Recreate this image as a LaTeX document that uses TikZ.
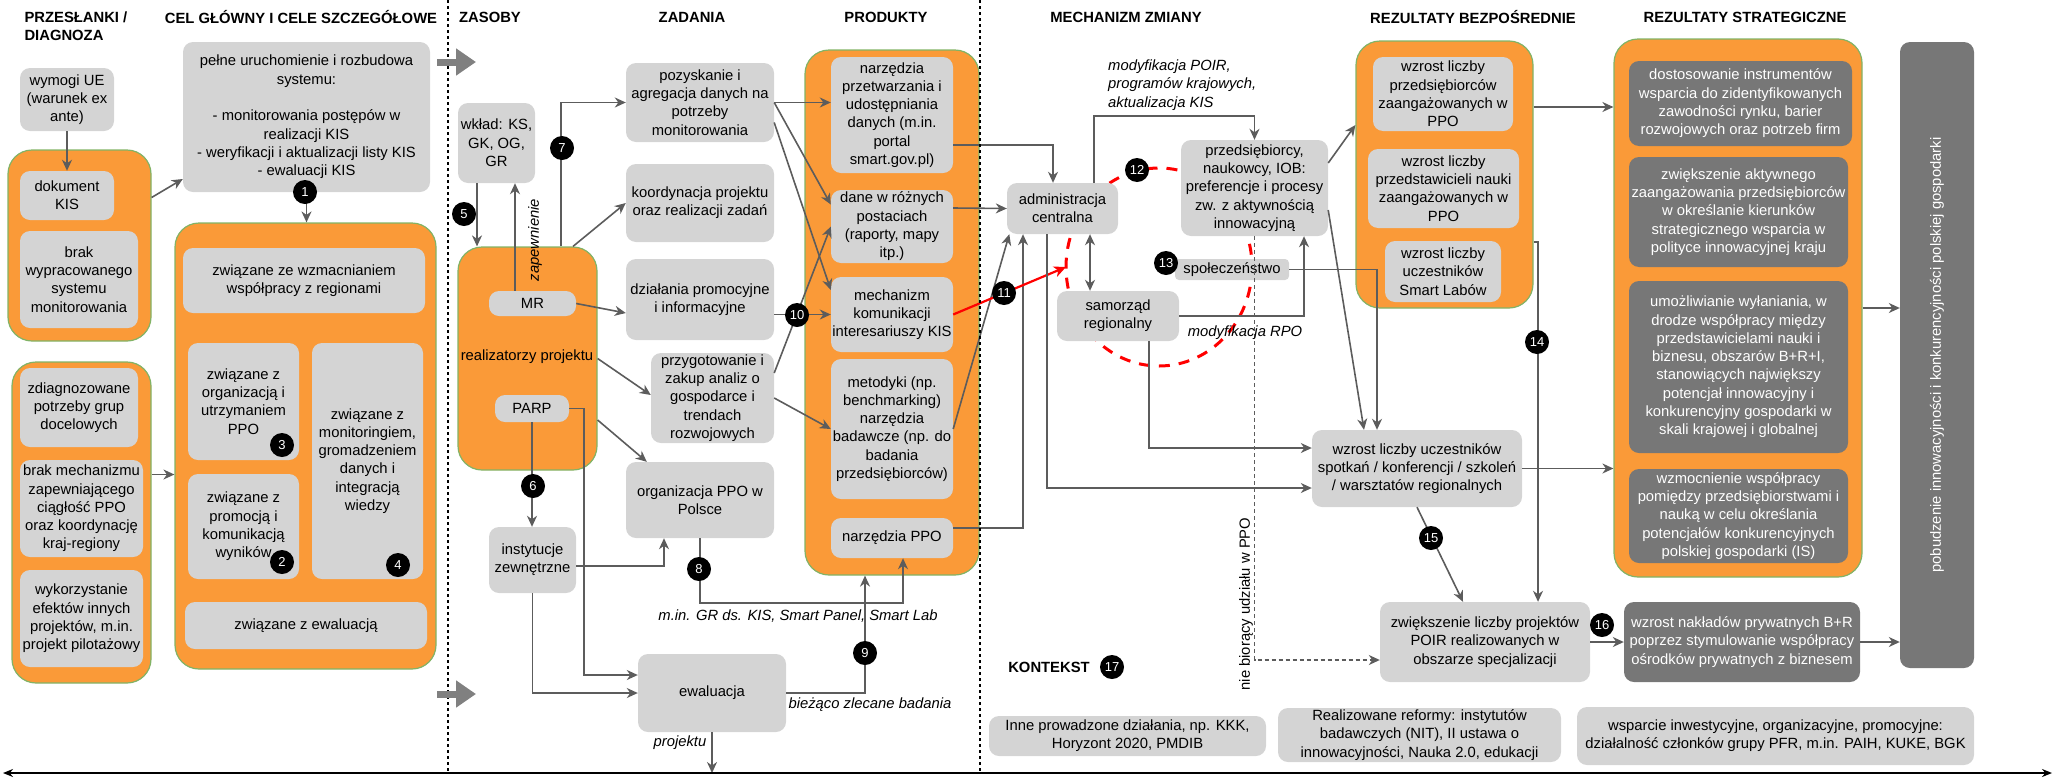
\documentclass[tikz,border=0pt]{standalone}
\usepackage{fontspec}
\setmainfont{Liberation Sans}
\usepackage{tikz}
\usetikzlibrary{arrows.meta,calc}
\definecolor{orng}{HTML}{FA9A38}
\definecolor{grn}{HTML}{82B366}
\definecolor{lgray}{HTML}{D4D4D4}
\definecolor{dgray}{HTML}{777777}
\definecolor{lnk}{HTML}{5C5C5C}
\definecolor{fat}{HTML}{808080}

\begin{document}
\begin{tikzpicture}[
  x=1pt, y=-1pt,
  font=\fontsize{14.8}{18.3}\selectfont,
  gbox/.style 2 args={
    fill=lgray, rounded corners=10pt, align=center, inner sep=0pt,
    minimum width=#1pt, minimum height=#2pt},
  dbox/.style 2 args={gbox={#1}{#2}, fill=dgray, text=white},
  grp/.style 2 args={
    fill=orng, draw=grn, line width=1.2pt, rounded corners=24pt,
    minimum width=#1pt, minimum height=#2pt},
  num/.style={
    circle, fill=black, text=white, inner sep=0pt, minimum size=24pt,
    font=\fontsize{13}{13}\selectfont},
  hdr/.style={font=\fontsize{14.8}{18.3}\selectfont\bfseries, align=left},
  lbl/.style={font=\fontsize{14.8}{18.3}\selectfont\itshape, inner sep=0pt},
  conn/.style={draw=lnk, line width=1.6pt,
    -{Stealth[length=11pt,width=10pt,inset=3.5pt]}},
  dconn/.style={conn, dash pattern=on 4pt off 3pt},
  redarr/.style={draw=red, line width=2.2pt,
    -{Stealth[length=12pt,width=11pt,inset=3.5pt]}},
  redloop/.style={draw=red, line width=3pt, dash pattern=on 11pt off 9pt},
  fatarr/.style={draw=fat, line width=7pt, -{Triangle[length=20pt,width=26pt]}},
  divider/.style={draw=black, line width=1.5pt, dash pattern=on 3pt off 3pt},
  timeline/.style={draw=black, line width=2pt,
    {Stealth[length=10pt,width=8pt]}-{Stealth[length=10pt,width=8pt]}},
]
\useasboundingbox (0,0) rectangle (2055,777);

% headers
\node[hdr, anchor=west] (hpre) at (21,26) {PRZESŁANKI /\\DIAGNOZA};
\node[hdr] (hcel) at (301,17) {CEL GŁÓWNY I CELE SZCZEGÓŁOWE};
\node[hdr] (hzas) at (490,17) {ZASOBY};
\node[hdr] (hzad) at (692,17) {ZADANIA};
\node[hdr] (hpro) at (886,17) {PRODUKTY};
\node[hdr] (hmech) at (1126,17) {MECHANIZM ZMIANY};
\node[hdr] (hbez) at (1473,17) {REZULTATY BEZPOŚREDNIE};
\node[hdr] (hstr) at (1745,17) {REZULTATY STRATEGICZNE};

% red loop behind the actors
\coordinate (cyc) at (1159,267);
\draw[redloop] (cyc) ellipse [x radius=93, y radius=99];

% przeslanki
\node[gbox={94}{63}] (wymogi) at (67,99.5) {wymogi UE\\(warunek ex\\ante)};
\node[grp={143}{191}] (grp1) at (79.5,245.5) {};
\node[gbox={94}{49}] (dokument) at (67,195.5) {dokument\\KIS};
\node[gbox={118}{97}] (brak1) at (79,279.5) {brak\\wypracowanego\\systemu\\monitorowania};
\node[grp={139}{321}] (grp3) at (81.5,522.5) {};
\node[gbox={118}{79}] (zdiag) at (79,407.5) {zdiagnozowane\\potrzeby grup\\docelowych};
\node[gbox={123}{97}] (brak2) at (81.5,508.5) {brak mechanizmu\\zapewniającego\\ciągłość PPO\\oraz koordynację\\kraj-regiony};
\node[gbox={123}{97}] (wykorz) at (81.5,618.5) {wykorzystanie\\efektów innych\\projektów, m.in.\\projekt pilotażowy};

% cele
\node[gbox={247}{150}] (pelne) at (306.5,117) {pełne uruchomienie i rozbudowa\\systemu:\\[18.3pt]- monitorowania postępów w\\realizacji KIS\\- weryfikacji i aktualizacji listy KIS\\- ewaluacji KIS};
\node[grp={261}{446}] (grp2) at (305.5,446) {};
\node[gbox={242}{65}] (wspol) at (304,280.5) {związane ze wzmacnianiem\\współpracy z regionami};
\node[gbox={111}{117}] (organiz) at (243.5,401.5) {związane z\\organizacją i\\utrzymaniem\\PPO};
\node[gbox={111}{105}] (promoc) at (243.5,526.5) {związane z\\promocją i\\komunikacją\\wyników};
\node[gbox={111}{236}] (monit) at (367.5,461) {związane z\\monitoringiem,\\gromadzeniem\\danych i\\integracją\\wiedzy};
\node[gbox={242}{47}] (ewcel) at (306,625.5) {związane z ewaluacją};

% zasoby
\node[gbox={77}{80}] (wklad) at (496.5,143) {wkład: KS,\\GK, OG,\\GR};
\node[grp={139}{223}] (grpZ) at (527.5,358.5) {};
\node[gbox={87}{25}] (mr) at (532.5,303.5) {MR};
\node (realiz) at (527,357) {realizatorzy projektu};
\node[gbox={74}{27}] (parp) at (532,408.5) {PARP};
\node[gbox={87}{66}] (instyt) at (532.5,560) {instytucje\\zewnętrzne};

% zadania
\node[gbox={148}{79}] (pozysk) at (700,102.5) {pozyskanie i\\agregacja danych na\\potrzeby\\monitorowania};
\node[gbox={148}{78}] (koord) at (700,203) {koordynacja projektu\\oraz realizacji zadań};
\node[gbox={148}{81}] (dzial) at (700,299.5) {działania promocyjne\\i informacyjne};
\node[gbox={123}{90}] (przyg) at (712.5,398) {przygotowanie i\\zakup analiz o\\gospodarce i\\trendach\\rozwojowych};
\node[gbox={148}{76}] (orgppo) at (700,500) {organizacja PPO w\\Polsce};
\node[gbox={148}{78}] (ewal) at (712,693) {ewaluacja};

% produkty
\node[grp={174}{525}] (grpP) at (892,312.5) {};
\node[gbox={122}{116}] (narz1) at (892,115) {narzędzia\\przetwarzania i\\udostępniania\\danych (m.in.\\portal\\smart.gov.pl)};
\node[gbox={122}{73}] (dane) at (892,226.5) {dane w różnych\\postaciach\\(raporty, mapy\\itp.)};
\node[gbox={122}{75}] (mech) at (892,314.5) {mechanizm\\komunikacji\\interesariuszy KIS};
\node[gbox={122}{140}] (metod) at (892,429) {metodyki (np.\\benchmarking)\\narzędzia\\badawcze (np. do\\badania\\przedsiębiorców)};
\node[gbox={122}{40}] (narzppo) at (892,538) {narzędzia PPO};

% mechanizm zmiany
\node[gbox={111}{51}] (admin) at (1062.5,208.5) {administracja\\centralna};
\node[gbox={147}{96}] (przeds) at (1254.5,188) {przedsiębiorcy,\\naukowcy, IOB:\\preferencje i procesy\\zw. z aktywnością\\innowacyjną};
\node[gbox={122}{50}] (samorz) at (1118,316) {samorząd\\regionalny};
\node[gbox={114}{21}, rounded corners=4pt] (spol) at (1232,269.5) {społeczeństwo};

% rezultaty bezposrednie
\node[grp={177}{267}] (grpB) at (1444.5,174.5) {};
\node[gbox={140}{74}] (wzr1) at (1443,94) {wzrost liczby\\przedsiębiorców\\zaangażowanych w\\PPO};
\node[gbox={151}{79}] (wzr2) at (1443.5,188.5) {wzrost liczby\\przedstawicieli nauki\\zaangażowanych w\\PPO};
\node[gbox={116}{61}] (wzr3) at (1443,271.5) {wzrost liczby\\uczestników\\Smart Labów};
\node[gbox={210}{77}] (spotk) at (1417,468.5) {wzrost liczby uczestników\\spotkań / konferencji / szkoleń\\/ warsztatów regionalnych};
\node[gbox={210}{80}] (zwiek) at (1485,642) {zwiększenie liczby projektów\\POIR realizowanych w\\obszarze specjalizacji};

% rezultaty strategiczne
\node[grp={248}{538}] (grpS) at (1738,308) {};
\node[dbox={223}{85}] (s1) at (1740.5,103.5) {dostosowanie instrumentów\\wsparcia do zidentyfikowanych\\zawodności rynku, barier\\rozwojowych oraz potrzeb firm};
\node[dbox={219}{110}] (s2) at (1738.5,212) {zwiększenie aktywnego\\zaangażowania przedsiębiorców\\w określanie kierunków\\strategicznego wsparcia w\\polityce innowacyjnej kraju};
\node[dbox={219}{172}] (s3) at (1738.5,367) {umożliwianie wyłaniania, w\\drodze współpracy między\\przedstawicielami nauki i\\biznesu, obszarów B+R+I,\\stanowiących największy\\potencjał innowacyjny i\\konkurencyjny gospodarki w\\skali krajowej i globalnej};
\node[dbox={219}{94}] (s4) at (1738.5,516) {wzmocnienie współpracy\\pomiędzy przedsiębiorstwami i\\nauką w celu określania\\potencjałów konkurencyjnych\\polskiej gospodarki (IS)};
\node[dbox={236}{80}] (naklady) at (1742,642) {wzrost nakładów prywatnych B+R\\poprzez stymulowanie współpracy\\ośrodków prywatnych z biznesem};
\node[dbox={74}{626}] (bar) at (1937,355) {};
\node[rotate=90, text=white] (bartxt) at (bar.center) {pobudzenie innowacyjności i konkurencyjności polskiej gospodarki};

% kontekst
\node[hdr] (hkon) at (1049,667) {KONTEKST};
\node[gbox={277}{40}] (ctx1) at (1127.5,736) {Inne prowadzone działania, np. KKK,\\Horyzont 2020, PMDIB};
\node[gbox={283}{54}] (ctx2) at (1419.5,735) {Realizowane reformy: instytutów\\badawczych (NIT), II ustawa o\\innowacyjności, Nauka 2.0, edukacji};
\node[gbox={397}{58}] (ctx3) at (1775.5,736) {wsparcie inwestycyjne, organizacyjne, promocyjne:\\działalność członków grupy PFR, m.in. PAIH, KUKE, BGK};

% connectors: left part
\draw[conn] (wymogi.south) -- (dokument.north);
\draw[conn] ([yshift=48pt]grp1.east) -- ([yshift=-62pt]pelne.west);
\draw[conn] (pelne.south) -- (pelne.south |- grp2.north);
\draw[conn] ([yshift=48pt]grp3.east) -- ([yshift=48pt]grp3.east -| grp2.west);

% zasoby -> zadania
\draw[conn] ([xshift=-19.5pt]wklad.south) -- ([xshift=-19.5pt]wklad.south |- grpZ.north);
\draw[conn] ([xshift=18.5pt]wklad.south |- mr.north) -- ([xshift=18.5pt]wklad.south);
\draw[conn] ([xshift=33.5pt]grpZ.north) |- (pozysk.west);
\draw[conn] ([xshift=45.5pt]grpZ.north) -- (koord.west);
\draw[conn] (mr.east) -- ([yshift=-13.5pt]dzial.west);
\draw[conn] (grpZ.east) -- ([yshift=3pt]przyg.west);
\draw[conn] ([yshift=-61.5pt]grpZ.east) -- ([xshift=21pt]orgppo.north west);
\draw[conn] (parp.south) -- (parp.south |- instyt.north);
\draw[conn] (parp.east) -- ++(15,0) |- ([yshift=18pt]ewal.west);
\draw[conn] ([yshift=-6pt]instyt.east) -| ([xshift=-36pt]orgppo.south);
\draw[conn] (instyt.south) |- (ewal.west);

% zadania -> produkty
\draw[conn] (pozysk.east) -- (pozysk.east -| narz1.west);
\draw[conn] (pozysk.east) -- ([yshift=22pt]dane.west);
\draw[conn] ([yshift=-20pt]pozysk.east) -- ([yshift=24.5pt]mech.west);
\draw[conn] ([yshift=-15pt]dzial.east) -- (mech.west);
\draw[conn] ([yshift=25pt]przyg.east) -- (dane.west);
\draw[conn] (przyg.east) -- (metod.west);
\draw[conn] (orgppo.south) -- ++(0,65) -| ([xshift=11pt]narzppo.south);
\draw[conn] (ewal.east) -| ([xshift=-27pt]grpP.south);
\coordinate (axl) at (3,773);
\coordinate (axr) at (2052,773);
\draw[conn] (ewal.south) -- (ewal.south |- axl);

% produkty -> mechanizm
\draw[conn] ([yshift=-30pt]narz1.east) -| ([xshift=-9.5pt]admin.north);
\draw[conn] ([yshift=18.5pt]dane.east) -- (admin.west);
\draw[conn] (metod.east) -- ([xshift=2.5pt]admin.south west);
\draw[conn] ([yshift=10pt]narzppo.east) -| ([xshift=-39.5pt]admin.south);
\draw[redarr] (mech.east) -- ([xshift=-93pt]cyc);

% mechanizm
\draw[conn] ([xshift=-15.5pt]admin.south) |- ([yshift=-19.5pt]spotk.west);
\draw[conn] ([xshift=31.5pt]admin.north) -- ++(0,-67) -| (przeds.north);
\draw[conn, <->, >={Stealth[length=11pt,width=10pt,inset=3.5pt]}]
  ([xshift=27.5pt]admin.south) -- ([xshift=27.5pt]admin.south |- samorz.north);
\draw[conn] (samorz.east) -| ([xshift=49.5pt]przeds.south);
\draw[conn] ([xshift=31pt]samorz.south) |- ([yshift=20.5pt]spotk.west);
\draw[conn] (spol.east) -| ([xshift=-40pt]spotk.north);
\draw[conn] ([yshift=-22pt]przeds.east) -- ([xshift=-53pt]spotk.north);
\draw[conn] ([yshift=25pt]przeds.east) -- ([yshift=49.5pt]grpB.west);
\draw[dconn] (przeds.south) |- ([yshift=-18pt]zwiek.west);

% rezultaty
\draw[conn] ([yshift=67.5pt]grpB.east) -- ([yshift=67.5pt]grpB.east -| grpS.west);
\draw[conn] ([yshift=-67.5pt]grpB.east) -| ([xshift=53pt]zwiek.north);
\draw[conn] (spotk.east) -- (spotk.east -| grpS.west);
\draw[conn] (spotk.south) -- ([xshift=-22pt]zwiek.north);
\draw[conn] (zwiek.east) -- (naklady.west);
\draw[conn] (grpS.east) -- (grpS.east -| bar.west);
\draw[conn] (naklady.east) -- (naklady.east -| bar.west);

% labels on connectors
\node[lbl, rotate=90] (lzap) at (535,240) {zapewnienie};
\node[lbl] (lgr) at (798,616) {m.in. GR ds. KIS, Smart Panel, Smart Lab};
\node[lbl] (lbiez) at (870,705) {bieżąco zlecane badania};
\node[lbl] (lproj) at (680,743) {projektu};
\node[lbl, anchor=west, align=left] (lpoir) at (1108,85) {modyfikacja POIR,\\programów krajowych,\\aktualizacja KIS};
\node[lbl] (lrpo) at (1245,333) {modyfikacja RPO};
\node[rotate=90, inner sep=0pt] (lnie) at (1246,604) {nie biorący udziału w PPO};

% numbered markers
\node[num] (n1) at (305,192) {1};
\node[num] (n2) at (282,562) {2};
\node[num] (n3) at (282,445) {3};
\node[num] (n4) at (398,565) {4};
\node[num] (n5) at (464,214) {5};
\node[num] (n6) at (533,486) {6};
\node[num] (n7) at (562,148) {7};
\node[num] (n8) at (699,569) {8};
\node[num] (n9) at (865,653) {9};
\node[num] (n10) at (797,315) {10};
\node[num] (n11) at (1004,293) {11};
\node[num] (n12) at (1137,170) {12};
\node[num] (n13) at (1166,263) {13};
\node[num] (n14) at (1537,342) {14};
\node[num] (n15) at (1431,538) {15};
\node[num] (n16) at (1602,625) {16};
\node[num] (n17) at (1112,667) {17};

% column dividers, flow arrows, timeline
\draw[divider] (448,0) -- (448,773);
\draw[divider] (980,0) -- (980,773);
\draw[fatarr] (437,62) -- (476,62);
\draw[fatarr] (437,694) -- (476,694);
\draw[timeline] (axl) -- (axr);
\end{tikzpicture}
\end{document}
